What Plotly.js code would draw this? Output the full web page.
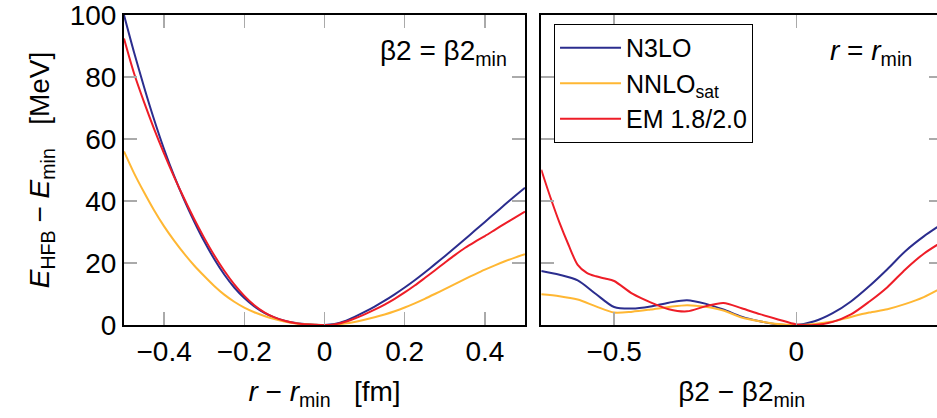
<!DOCTYPE html>
<html>
<head>
<meta charset="utf-8">
<script src="https://cdn.plot.ly/plotly-3.0.1.min.js"></script>
<style>
html,body{margin:0;padding:0;overflow:hidden;background:#fff;}
#chart{width:950px;height:418px;}
</style>
</head>
<body>
<div id="chart"></div>
<script>
// Left panel: r - r_min [fm]
const rX = [-0.5,-0.475,-0.45,-0.425,-0.4,-0.375,-0.35,-0.325,-0.3,-0.275,-0.25,-0.225,-0.2,-0.175,-0.15,-0.125,-0.1,-0.075,-0.05,-0.025,0,
  0.025,0.05,0.075,0.1,0.125,0.15,0.175,0.2,0.225,0.25,0.275,0.3,0.325,0.35,0.375,0.4,0.425,0.45,0.475,0.5];
const rN3LO = [100,88,76.8,66.3,56.7,48.1,40.4,33.4,27.0,21.3,16.3,12.1,8.7,6.0,3.95,2.45,1.4,0.7,0.3,0.1,0,
  0.3,1.2,2.6,4.2,5.95,7.85,9.9,12.1,14.45,16.95,19.55,22.2,24.9,27.65,30.45,33.25,36.05,38.85,41.6,44.3];
const rNNLOsat = [56,49,42.8,37,31.8,27.2,23,19.2,15.8,12.6,9.8,7.5,5.6,4.1,2.9,1.9,1.15,0.6,0.25,0.05,0,
  0.1,0.45,1.0,1.7,2.5,3.4,4.45,5.65,7.0,8.45,10.0,11.6,13.2,14.8,16.35,17.85,19.25,20.55,21.75,22.85];
const rEM = [92.4,81.2,71.9,63.3,55.3,47.8,40.8,34.2,28.1,22.5,17.5,13.1,9.4,6.4,4.1,2.45,1.35,0.65,0.25,0.05,0,
  0.2,0.95,2.1,3.45,4.95,6.6,8.45,10.5,12.75,15.15,17.6,20.1,22.55,24.85,26.85,28.7,30.7,32.7,34.65,36.6];

// Right panel: beta2 - beta2_min
const bX = [-0.7,-0.65,-0.6,-0.55,-0.5,-0.45,-0.4,-0.35,-0.3,-0.25,-0.2,-0.15,-0.1,-0.05,0,0.05,0.1,0.15,0.2,0.25,0.3,0.35,0.4];
const bN3LO = [17.4,16.2,14.4,10.0,5.8,5.3,6.0,7.2,8.0,6.9,5.0,2.7,1.2,0.2,0,1.2,3.8,7.6,12.5,18.0,23.9,28.6,32.6];
const bNNLOsat = [9.9,9.3,8.2,6.0,4.0,4.3,5.0,5.8,6.4,5.9,4.7,2.4,1.2,0.3,0,0.3,1.1,2.6,4.0,5.1,6.8,9.0,12.0];
const bEMx = [-0.7,-0.675,-0.65,-0.625,-0.6,-0.575,-0.55,-0.525,-0.5,-0.45,-0.4,-0.35,-0.3,-0.25,-0.2,-0.15,-0.1,-0.05,0,0.05,0.1,0.15,0.2,0.25,0.3,0.35,0.4];
const bEM = [50.1,41.2,33,25.8,19.4,16.8,15.7,15.0,14.2,10.1,7.3,5.1,4.4,6.0,7.1,5.4,3.5,1.8,0.2,0,1.0,3.4,7.5,12.2,18.0,23.0,26.8];

const seriesNames = ['N3LO','NNLO<sub>sat</sub>','EM 1.8/2.0'];
const colors = ['#2b2d8e','#ffb733','#ee1d27'];

const lw = 2;
const mk = (x,y,i,xa,ya,show) => ({
  x:x, y:y, type:'scatter', mode:'lines', name:seriesNames[i],
  line:{color:colors[i], width:lw, shape:'spline', smoothing:0.8},
  xaxis:xa, yaxis:ya, showlegend:show, hoverinfo:'skip'
});

const data = [
  mk(rX,rN3LO,0,'x','y',true),
  mk(rX,rNNLOsat,1,'x','y',true),
  mk(rX,rEM,2,'x','y',true),
  mk(bX,bN3LO,0,'x2','y2',false),
  mk(bX,bNNLOsat,1,'x2','y2',false),
  mk(bEMx,bEM,2,'x2','y2',false)
];

const FONT = 'Liberation Sans, Arial, sans-serif';
const axisCommon = {
  showline:true, linecolor:'#000', linewidth:2, mirror:'ticks',
  ticks:'inside', ticklen:13, tickwidth:1.5, tickcolor:'#aaaaaa',
  showgrid:false, zeroline:false, ticklabeloverflow:'allow',
  tickfont:{family:FONT, size:28, color:'#000'}
};

const layout = {
  width:950, height:418,
  margin:{l:124, r:8, t:15, b:93},
  paper_bgcolor:'#fff', plot_bgcolor:'#fff',
  font:{family:FONT, color:'#000'},
  xaxis: Object.assign({}, axisCommon, {
    domain:[0,0.4902], range:[-0.5,0.5], tickvals:[-0.4,-0.2,0,0.2,0.4],
    ticktext:['−0.4','−0.2','0','0.2','0.4'],
    title:{text:'<i>r</i> − <i>r</i><sub>min</sub>   [fm]', font:{family:FONT,size:28,color:'#000'}, standoff:16}
  }),
  yaxis: Object.assign({}, axisCommon, {
    domain:[0,1], range:[0,100], tickvals:[0,20,40,60,80,100],
    title:{text:'<i>E</i><sub>HFB</sub> − <i>E</i><sub>min</sub>   [MeV]', font:{family:FONT,size:28,color:'#000'}, standoff:12}
  }),
  xaxis2: Object.assign({}, axisCommon, {
    domain:[0.5101,1], range:[-0.7,0.4], tickvals:[-0.5,0],
    ticktext:['−0.5','0'], anchor:'y2',
    title:{text:'β2 − β2<sub>min</sub>', font:{family:FONT,size:28,color:'#000'}, standoff:16}
  }),
  yaxis2: Object.assign({}, axisCommon, {
    domain:[0,1], range:[0,100], tickvals:[0,20,40,60,80,100],
    showticklabels:false, anchor:'x2'
  }),
  legend:{
    x:0.5257, y:0.971, xanchor:'left', yanchor:'top',
    bordercolor:'#000', borderwidth:1, bgcolor:'#fff', itemwidth:61,
    font:{family:FONT, size:25, color:'#000'}
  },
  annotations:[
    {xref:'x domain', yref:'y domain', x:1, y:1, xanchor:'right', yanchor:'top',
     xshift:-16, yshift:-18, showarrow:false, text:'β2 = β2<sub>min</sub>',
     font:{family:FONT, size:28, color:'#000'}},
    {xref:'x2 domain', yref:'y2 domain', x:1, y:1, xanchor:'right', yanchor:'top',
     xshift:-28, yshift:-18, showarrow:false, text:'<i>r</i> = <i>r</i><sub>min</sub>',
     font:{family:FONT, size:28, color:'#000'}}
  ]
};

Plotly.newPlot('chart', data, layout, {displayModeBar:false, staticPlot:true});
</script>
</body>
</html>
